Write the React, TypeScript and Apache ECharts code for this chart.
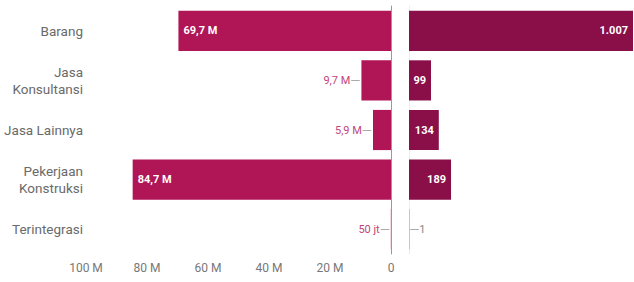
import React, { useEffect, useRef } from "react";
import * as echarts from "echarts";

const categories = ["Barang", "Jasa\nKonsultansi", "Jasa Lainnya", "Pekerjaan\nKonstruksi", "Terintegrasi"];
// Nilai (miliar rupiah, "M")
const nilaiM = [69.7, 9.7, 5.9, 84.7, 0.05];
// Jumlah paket
const jumlah = [1007, 99, 134, 189, 1];
const leftTicks = [0, 20, 40, 60, 80, 100];

const LEFT_COLOR = "#b01556";
const RIGHT_COLOR = "#8a0f49";
const FONT = "Roboto, 'Noto Sans', sans-serif";

function fmtNilai(v: number): string {
  if (v >= 1) return v.toFixed(1).replace(".", ",") + " M";
  return Math.round(v * 1000) + " jt";
}
function fmtJumlah(v: number): string {
  return String(v).replace(/\B(?=(\d{3})+(?!\d))/g, ".");
}

export default function App() {
  const ref = useRef<HTMLDivElement>(null);
  useEffect(() => {
    document.body.style.margin = "0";
    if (!ref.current) return;
    const chart = echarts.init(ref.current, undefined, { renderer: "svg" });
    const maxLeft = leftTicks[leftTicks.length - 1];
    const leftData = nilaiM.map((v) => {
      const inside = v > 20;
      return {
        value: v,
        label: inside
          ? {
              show: true,
              position: "insideLeft",
              distance: 5,
              color: "#fff",
              fontWeight: "bold",
              fontSize: 11,
              fontFamily: FONT,
              formatter: () => fmtNilai(v),
            }
          : {
              show: true,
              position: "left",
              distance: 1,
              formatter: () => "{v|" + fmtNilai(v) + "}{l|—}",
              rich: {
                v: { color: "#c2457a", fontSize: 11, fontFamily: FONT },
                l: { color: "#aaaaaa", fontSize: 13, fontFamily: FONT },
              },
            },
      };
    });
    const rightData = jumlah.map((v) => {
      const inside = v > 20;
      return {
        value: v,
        label: inside
          ? {
              show: true,
              position: "insideRight",
              distance: 5,
              color: "#fff",
              fontWeight: "bold",
              fontSize: 11,
              fontFamily: FONT,
              formatter: () => fmtJumlah(v),
            }
          : {
              show: true,
              position: "right",
              distance: 0,
              formatter: () => "{l|—}{v|" + fmtJumlah(v) + "}",
              rich: {
                v: { color: "#888888", fontSize: 11, fontFamily: FONT },
                l: { color: "#aaaaaa", fontSize: 13, fontFamily: FONT },
              },
            },
      };
    });
    chart.setOption({
      animation: false,
      textStyle: { fontFamily: FONT },
      grid: [
        { left: 86, right: 243, top: 6, bottom: 28, containLabel: false },
        { left: 409, right: 1, top: 6, bottom: 28, containLabel: false },
      ],
      xAxis: [
        {
          type: "value",
          gridIndex: 0,
          min: 0,
          max: maxLeft,
          interval: 20,
          inverse: true,
          axisLine: { show: false },
          axisTick: { show: false },
          splitLine: { show: false },
          axisLabel: {
            color: "#777",
            fontSize: 12,
            margin: 8,
            fontFamily: FONT,
            formatter: (v: number) => (v === 0 ? "0" : v + " M"),
          },
        },
        {
          type: "value",
          gridIndex: 1,
          min: 0,
          max: "dataMax",
          show: false,
        },
      ],
      yAxis: [
        {
          type: "category",
          gridIndex: 0,
          data: categories,
          inverse: true,
          position: "left",
          axisLine: { show: false, onZero: false },
          axisTick: { show: false },
          axisLabel: {
            color: "#6a6a6a",
            fontSize: 13.5,
            lineHeight: 17,
            margin: 3,
            fontFamily: FONT,
          },
        },
        {
          type: "category",
          gridIndex: 0,
          data: categories,
          inverse: true,
          position: "right",
          axisLine: { show: true, onZero: false, lineStyle: { color: "#999", width: 1 } },
          axisTick: { show: false },
          axisLabel: { show: false },
        },
        {
          type: "category",
          gridIndex: 1,
          data: categories,
          inverse: true,
          position: "left",
          axisLine: { show: true, onZero: false, lineStyle: { color: "#eeeeee", width: 1 } },
          axisTick: { show: false },
          axisLabel: { show: false },
        },
      ],
      series: [
        {
          type: "bar",
          xAxisIndex: 0,
          yAxisIndex: 0,
          data: leftData,
          barCategoryGap: "19%",
          itemStyle: { color: LEFT_COLOR },
        },
        {
          type: "bar",
          xAxisIndex: 1,
          yAxisIndex: 2,
          data: rightData,
          barCategoryGap: "19%",
          itemStyle: { color: RIGHT_COLOR },
        },
      ],
    });
    return () => chart.dispose();
  }, []);
  return <div ref={ref} style={{ width: 634, height: 282 }} />;
}
